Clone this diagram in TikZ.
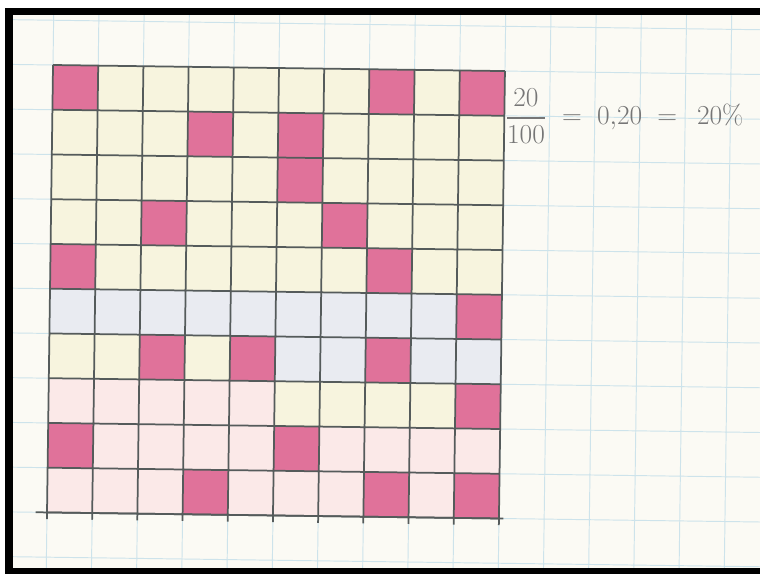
\documentclass[tikz,border=0pt]{standalone}
\usepackage{amsmath}
\usepackage{xcolor}
\definecolor{paper}{HTML}{FBFAF4}
\definecolor{paperline}{HTML}{CDE3EB}
\definecolor{cream}{HTML}{F7F4DE}
\definecolor{greyblue}{HTML}{E9EBF1}
\definecolor{blush}{HTML}{FBE9E8}
\definecolor{crayon}{HTML}{E0729A}
\definecolor{pencil}{HTML}{555B5B}
\definecolor{lead}{HTML}{767676}

\begin{document}
\begin{tikzpicture}[inner sep=0pt,
  paperlines/.style={draw=paperline, line width=0.6pt},
  pencilline/.style={draw=pencil, line width=1.1pt},
  coloured/.style={fill=crayon},
  sheet/.style={shift={(1.173,11.261)}, rotate=-0.77, yscale=0.99}]
\def\w{16.814}
\def\h{12.699}
\useasboundingbox (0,0) rectangle (\w,\h);
\fill[white] (0,0) rectangle (\w,\h);
\fill[paper] (0.288,0.133) rectangle (\w,12.367);

% squared paper
\begin{scope}
\clip (0.288,0.133) rectangle (\w,12.367);
\begin{scope}[sheet]
\draw[paperlines] (-2,-13) grid (17,3);
\end{scope}
\end{scope}

\begin{scope}[sheet]
% background of the cells
\fill[cream] (0, -5) rectangle (10, 0);
\fill[greyblue] (0, -6) rectangle (10, -5);
\fill[cream] (0, -7) rectangle (5, -6);
\fill[greyblue] (5, -7) rectangle (10, -6);
\fill[blush] (0, -8) rectangle (5, -7);
\fill[cream] (5, -8) rectangle (10, -7);
\fill[blush] (0, -10) rectangle (10, -8);

% the 20 coloured cells
\fill[coloured] (0, -1) rectangle (1, 0);
\fill[coloured] (7, -1) rectangle (8, 0);
\fill[coloured] (9, -1) rectangle (10, 0);
\fill[coloured] (3, -2) rectangle (4, -1);
\fill[coloured] (5, -2) rectangle (6, -1);
\fill[coloured] (5, -3) rectangle (6, -2);
\fill[coloured] (2, -4) rectangle (3, -3);
\fill[coloured] (6, -4) rectangle (7, -3);
\fill[coloured] (0, -5) rectangle (1, -4);
\fill[coloured] (7, -5) rectangle (8, -4);
\fill[coloured] (9, -6) rectangle (10, -5);
\fill[coloured] (2, -7) rectangle (3, -6);
\fill[coloured] (4, -7) rectangle (5, -6);
\fill[coloured] (7, -7) rectangle (8, -6);
\fill[coloured] (9, -8) rectangle (10, -7);
\fill[coloured] (0, -9) rectangle (1, -8);
\fill[coloured] (5, -9) rectangle (6, -8);
\fill[coloured] (3, -10) rectangle (4, -9);
\fill[coloured] (7, -10) rectangle (8, -9);
\fill[coloured] (9, -10) rectangle (10, -9);

\draw[pencilline] (0, -10.15) grid (10, 0);
\draw[pencilline] (-0.25, -10) -- (10.1, -10);
\end{scope}

\node[text=lead, anchor=west] (ratio) at (11.17, 10.13)
  {\LARGE$\dfrac{20}{100} \;=\; 0{,}20 \;=\;\, 20\%$};

% frame
\fill[black] (0.111,12.367) rectangle (\w,12.522);
\fill[black] (0.111,0) rectangle (0.288,12.522);
\fill[black] (0.111,0) rectangle (\w,0.133);
\end{tikzpicture}
\end{document}
